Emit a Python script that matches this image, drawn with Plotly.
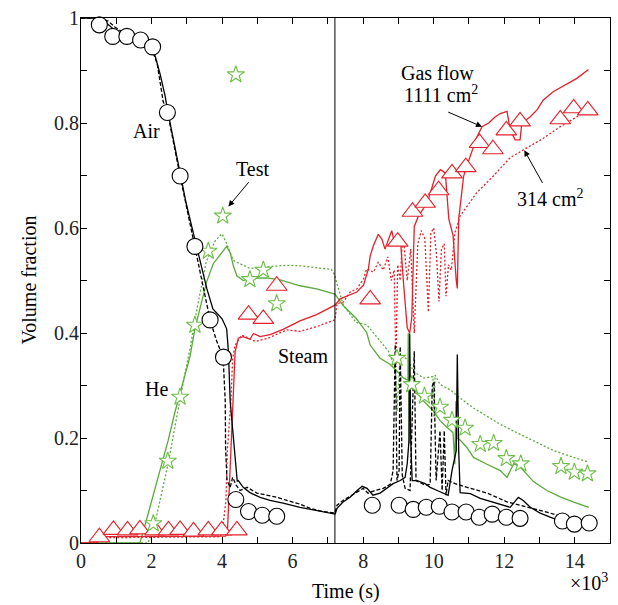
import plotly.graph_objects as go

# ---------------- data (time in 10^3 s, volume fraction) ----------------
# Measured points (test)
air_test_t = [0.52, 0.90, 1.30, 1.69, 2.03, 2.45, 2.81, 3.23, 3.66, 4.04, 4.39, 4.75, 5.14, 5.55,
              8.26, 9.02, 9.42, 9.79, 10.16, 10.52, 10.92, 11.29, 11.66, 12.06, 12.45, 13.65, 13.99, 14.41]
air_test_v = [0.987, 0.965, 0.965, 0.958, 0.945, 0.820, 0.699, 0.565, 0.425, 0.354, 0.083, 0.060, 0.053, 0.051,
              0.072, 0.072, 0.064, 0.068, 0.070, 0.059, 0.059, 0.049, 0.055, 0.049, 0.047, 0.042, 0.036, 0.038]

he_test_t = [0.54, 2.05, 2.46, 2.81, 3.23, 3.61, 4.02, 4.39, 4.79, 5.17, 5.55,
             8.96, 9.38, 9.74, 10.18, 10.52, 10.89, 11.32, 11.70, 12.06, 12.47, 13.61, 13.99, 14.36]
he_test_v = [-0.007, 0.037, 0.156, 0.278, 0.415, 0.556, 0.623, 0.892, 0.502, 0.520, 0.456,
             0.352, 0.302, 0.280, 0.259, 0.234, 0.219, 0.188, 0.190, 0.161, 0.151, 0.146, 0.135, 0.132]

steam_test_t = [0.52, 0.92, 1.32, 1.67, 2.10, 2.48, 2.81, 3.19, 3.61, 3.99, 4.42, 4.75, 5.17, 5.55,
                8.20, 8.98, 9.40, 9.76, 10.14, 10.52, 10.91, 11.30, 11.68, 12.06, 12.45, 13.59, 13.97, 14.37]
steam_test_v = [0.011, 0.025, 0.024, 0.026, 0.024, 0.024, 0.025, 0.022, 0.024, 0.024, 0.024, 0.435, 0.427, 0.490,
                0.464, 0.574, 0.631, 0.648, 0.672, 0.704, 0.716, 0.762, 0.750, 0.786, 0.803, 0.807, 0.828, 0.824]

# Air, gas flow 1111 cm2 (solid)
air_1111_t = [0, 0.40, 0.62, 0.82, 1.05, 1.39, 1.73, 1.96, 2.10, 2.24, 2.38, 2.47, 2.64, 2.81, 2.98, 3.23, 3.40,
              3.57, 3.74, 4.00, 4.13, 4.18, 4.23, 4.32, 4.37, 4.41, 4.43, 4.46, 4.60, 4.79, 5.08, 5.36, 5.73, 6.21,
              6.78, 7.20, 7.21, 7.26, 7.43, 7.63, 7.83, 7.97, 8.11, 8.28, 8.48, 8.68, 8.85, 9.05, 9.19, 9.25, 9.30,
              9.32, 9.35, 9.39, 9.53, 9.76, 9.90, 10.10, 10.27, 10.41, 10.52, 10.64, 10.67, 10.71, 10.75, 11.04,
              11.32, 11.66, 11.97, 12.17, 12.40, 12.54, 12.74, 13.02, 13.39, 13.79, 14.07, 14.41]
air_1111_v = [1.0, 1.0, 0.996, 0.985, 0.970, 0.962, 0.955, 0.945, 0.928, 0.894, 0.853, 0.819, 0.762, 0.699, 0.648,
              0.578, 0.531, 0.484, 0.446, 0.427, 0.408, 0.365, 0.270, 0.208, 0.163, 0.140, 0.118, 0.119, 0.106,
              0.096, 0.087, 0.081, 0.076, 0.068, 0.060, 0.055, 0.056, 0.066, 0.078, 0.087, 0.100, 0.108, 0.104,
              0.091, 0.095, 0.104, 0.113, 0.119, 0.125, 0.151, 0.195, 0.399, 0.195, 0.119, 0.119, 0.113, 0.106,
              0.100, 0.095, 0.091, 0.138, 0.176, 0.359, 0.176, 0.096, 0.094, 0.085, 0.078, 0.072, 0.068, 0.087,
              0.081, 0.068, 0.057, 0.047, 0.040, 0.038, 0.030]

# Air, gas flow 314 cm2 (dashed)
air_314_t = [0, 0.54, 0.77, 0.96, 1.25, 1.67, 2.01, 2.16, 2.33, 2.47, 2.81, 3.23, 3.46, 3.66, 3.83, 4.03, 4.09,
             4.10, 4.14, 4.23, 4.30, 4.40, 4.51, 4.71, 4.99, 5.28, 5.56, 5.84, 6.21, 6.50, 6.84, 7.20,
             7.26, 7.43, 7.63, 7.83, 8.00, 8.14, 8.34, 8.57, 8.77, 8.85, 8.91, 8.96, 9.02, 9.05, 9.11, 9.19,
             9.33, 9.45, 9.50, 9.62, 9.76, 9.90, 9.96, 10.01, 10.07, 10.18, 10.24, 10.30, 10.35, 10.41, 10.61,
             10.95, 11.52, 12.09, 12.45, 12.82, 13.30, 13.79, 14.41]
air_314_v = [1.0, 1.0, 0.994, 0.983, 0.970, 0.957, 0.941, 0.913, 0.841, 0.815, 0.699, 0.565, 0.493, 0.425, 0.388,
             0.353, 0.270, 0.181, 0.119, 0.106, 0.125, 0.110, 0.100, 0.106, 0.095, 0.091, 0.087, 0.081, 0.074,
             0.066, 0.060, 0.057, 0.072, 0.081, 0.089, 0.096, 0.104, 0.095, 0.100, 0.104, 0.112, 0.138, 0.378,
             0.119, 0.138, 0.374, 0.129, 0.104, 0.100, 0.365, 0.119, 0.115, 0.110, 0.112, 0.299, 0.308, 0.119,
             0.214, 0.100, 0.214, 0.091, 0.119, 0.113, 0.106, 0.095, 0.078, 0.072, 0.066, 0.057, 0.047, 0.038]

# He, 1111 cm2 (solid)
he_1111_t = [0, 1.67, 1.84, 2.01, 2.24, 2.47, 2.67, 2.87, 3.09, 3.23, 3.56, 3.75, 3.94, 4.13, 4.23, 4.32, 4.42,
             4.60, 4.79, 5.26, 5.65, 6.21, 6.68, 7.20, 7.44, 7.80, 8.10, 8.20, 8.48, 8.77, 8.96, 9.15, 9.27, 9.28,
             9.31, 9.33, 9.44, 9.72, 10.00, 10.18, 10.37, 10.55, 10.60, 10.63, 10.66, 10.75, 10.94, 11.13, 11.51,
             11.89, 12.08, 12.17, 12.27, 12.45, 12.83, 13.21, 13.59, 13.97, 14.40]
he_1111_v = [0.0, 0.0, 0.040, 0.081, 0.138, 0.195, 0.251, 0.299, 0.355, 0.408, 0.497, 0.532, 0.548, 0.565, 0.553,
             0.528, 0.509, 0.500, 0.504, 0.505, 0.501, 0.490, 0.484, 0.474, 0.452, 0.428, 0.401, 0.377, 0.352,
             0.340, 0.327, 0.314, 0.310, 0.400, 0.190, 0.300, 0.295, 0.270, 0.251, 0.233, 0.221, 0.210, 0.150,
             0.270, 0.200, 0.196, 0.182, 0.163, 0.150, 0.138, 0.125, 0.138, 0.151, 0.145, 0.117, 0.100, 0.088,
             0.078, 0.068]

# He, 314 cm2 (dashed)
he_314_t = [0, 1.90, 2.10, 2.48, 2.81, 3.09, 3.30, 3.55, 3.80, 4.00, 4.13, 4.32, 4.60, 4.79, 5.28, 5.84, 6.21,
            6.68, 7.10, 7.20, 7.25, 7.44, 7.80, 8.10, 8.48, 8.72, 8.91, 8.96, 9.05, 9.25, 9.44, 9.72, 9.98, 10.01,
            10.04, 10.18, 10.46, 10.75, 11.13, 11.51, 11.89, 12.36, 12.83, 13.40, 13.97, 14.40]
he_314_v = [0.0, 0.0, 0.038, 0.154, 0.275, 0.370, 0.450, 0.535, 0.575, 0.589, 0.570, 0.538, 0.529, 0.523, 0.526,
            0.529, 0.528, 0.525, 0.521, 0.510, 0.495, 0.453, 0.420, 0.416, 0.384, 0.365, 0.333, 0.251, 0.358,
            0.350, 0.326, 0.314, 0.317, 0.240, 0.320, 0.302, 0.292, 0.276, 0.257, 0.242, 0.226, 0.210, 0.195,
            0.176, 0.163, 0.154]

# Steam, 1111 cm2 (solid)
steam_1111_t = [0, 0.45, 0.55, 4.10, 4.15, 4.23, 4.32, 4.37, 4.46, 4.60, 4.79, 4.89, 5.08, 5.36, 5.73, 6.21, 6.68,
                7.20, 7.35, 7.63, 7.82, 8.01, 8.15, 8.20, 8.29, 8.43, 8.53, 8.62, 8.72, 8.81, 8.91, 9.05, 9.15,
                9.25, 9.32, 9.38, 9.45, 9.57, 9.82, 10.05, 10.19, 10.33, 10.43, 10.55, 10.64, 10.67, 10.71, 10.85,
                10.94, 11.13, 11.23, 11.37, 11.56, 11.75, 11.89, 12.08, 12.17, 12.31, 12.45, 12.50, 12.74, 12.93,
                13.11, 13.40, 13.78, 14.06, 14.39]
steam_1111_v = [0.0, 0.0, 0.012, 0.013, 0.019, 0.144, 0.302, 0.364, 0.390, 0.393, 0.388, 0.399, 0.393, 0.397,
                0.407, 0.423, 0.435, 0.453, 0.465, 0.472, 0.478, 0.491, 0.522, 0.547, 0.566, 0.588, 0.579, 0.560,
                0.579, 0.595, 0.566, 0.585, 0.491, 0.410, 0.400, 0.430, 0.603, 0.623, 0.648, 0.699, 0.711, 0.705,
                0.617, 0.586, 0.500, 0.485, 0.617, 0.699, 0.718, 0.756, 0.774, 0.793, 0.800, 0.812, 0.818, 0.822,
                0.787, 0.768, 0.768, 0.800, 0.812, 0.825, 0.844, 0.860, 0.875, 0.885, 0.902]

# Steam, 314 cm2 (dashed)
steam_314_t = [0, 0.45, 0.50, 3.95, 4.02, 4.11, 4.15, 4.25, 4.30, 4.37, 4.56, 4.94, 5.30, 5.58, 5.84, 6.21, 6.68,
               7.20, 7.26, 7.44, 7.63, 7.82, 8.01, 8.10, 8.29, 8.43, 8.57, 8.70, 8.80, 8.88, 8.93, 8.98, 9.05,
               9.10, 9.15, 9.25, 9.35, 9.45, 9.55, 9.65, 9.75, 9.85, 9.92, 10.00, 10.08, 10.15, 10.22, 10.30,
               10.35, 10.42, 10.50, 10.60, 10.75, 11.22, 11.69, 12.17, 12.64, 13.11, 13.59, 14.06, 14.39]
steam_314_v = [0.0, 0.0, 0.010, 0.012, 0.030, 0.081, 0.176, 0.270, 0.352, 0.377, 0.396, 0.384, 0.390, 0.399,
               0.406, 0.403, 0.412, 0.425, 0.456, 0.459, 0.478, 0.484, 0.503, 0.522, 0.516, 0.535, 0.520, 0.545,
               0.500, 0.520, 0.335, 0.530, 0.500, 0.560, 0.575, 0.500, 0.560, 0.400, 0.570, 0.595, 0.580, 0.440,
               0.590, 0.600, 0.550, 0.460, 0.560, 0.570, 0.470, 0.530, 0.520, 0.590, 0.623, 0.667, 0.699, 0.734,
               0.752, 0.771, 0.793, 0.812, 0.825]

x_tick_vals = [0, 2, 4, 6, 8, 10, 12, 14]
x_tick_text = ["0", "2", "4", "6", "8", "10", "12", "14"]
y_tick_vals = [0, 0.2, 0.4, 0.6, 0.8, 1.0]
y_tick_text = ["0", "0.2", "0.4", "0.6", "0.8", "1"]

# ---------------- styles ----------------
BLACK = "#000000"
GREEN = "#5aaa3a"
RED = "#e4202a"
FONT = "Liberation Serif"
LW = 1.3
FS = 20

fig = go.Figure()

def line(x, y, color, dash):
    fig.add_trace(go.Scatter(x=x, y=y, mode="lines",
                             line=dict(color=color, width=LW, dash=dash),
                             showlegend=False, hoverinfo="skip"))

line(he_314_t, he_314_v, GREEN, "2px,2px")
line(he_1111_t, he_1111_v, GREEN, "solid")
line(steam_314_t, steam_314_v, RED, "2px,2px")
line(steam_1111_t, steam_1111_v, RED, "solid")
line(air_314_t, air_314_v, BLACK, "4px,2px")
line(air_1111_t, air_1111_v, BLACK, "solid")

def markers(x, y, symbol, size, color):
    fig.add_trace(go.Scatter(x=x, y=y, mode="markers", cliponaxis=False,
                             marker=dict(symbol=symbol, size=size, color="white",
                                         line=dict(color=color, width=1.1)),
                             showlegend=False, hoverinfo="skip"))

markers(steam_test_t, steam_test_v, "triangle-up", 18, RED)
markers(he_test_t, he_test_v, "star", 13, "#6cbf46")
markers(air_test_t, air_test_v, "circle", 16, BLACK)

# vertical separator
fig.add_shape(type="line", x0=7.2, x1=7.2, y0=0, y1=1, xref="x", yref="y",
              line=dict(color=BLACK, width=1), layer="above")

txt = dict(family=FONT, size=FS, color=BLACK)
ann = []
def text(x, y, s, **kw):
    ann.append(dict(x=x, y=y, xref="x", yref="y", text=s, showarrow=False, font=txt, **kw))

def arrow(x0, y0, x1, y1):
    ann.append(dict(x=x1, y=y1, ax=x0, ay=y0, xref="x", yref="y", axref="x", ayref="y",
                    text="", showarrow=True, arrowhead=2, arrowsize=1.2, arrowwidth=1,
                    arrowcolor=BLACK))

text(1.87, 0.784, "Air")
text(4.85, 0.713, "Test")
text(2.13, 0.293, "He")
text(6.30, 0.357, "Steam")
text(10.10, 0.896, "Gas flow")
text(10.22, 0.855, "1111 cm<sup>2</sup>")
text(13.30, 0.658, "314 cm<sup>2</sup>")
arrow(4.79, 0.690, 4.18, 0.641)
arrow(10.37, 0.822, 11.37, 0.793)
arrow(13.11, 0.683, 12.57, 0.748)

ann.append(dict(x=0.5, y=-0.092, xref="paper", yref="paper", text="Time (s)", showarrow=False,
                font=txt, xanchor="center", yanchor="middle"))
ann.append(dict(x=1.0, y=-0.075, xref="paper", yref="paper", text="×10<sup>3</sup>", showarrow=False,
                font=txt, xanchor="right", yanchor="middle"))
ann.append(dict(x=-0.1, y=0.5, xref="paper", yref="paper", text="Volume fraction", showarrow=False,
                font=txt, textangle=-90, xanchor="center", yanchor="middle"))

axis_common = dict(showgrid=False, zeroline=False, showline=True, linecolor=BLACK, linewidth=1.2,
                   mirror="ticks", ticks="inside", ticklen=6, tickwidth=1, tickcolor=BLACK,
                   tickfont=dict(family=FONT, size=FS, color="#222222"))

fig.update_layout(
    width=618, height=605,
    margin=dict(l=81, r=7, t=14, b=62),
    plot_bgcolor="white", paper_bgcolor="white",
    xaxis=dict(range=[0, 15], tickvals=x_tick_vals, ticktext=x_tick_text,
               minor=dict(dtick=1, tick0=0, ticks="inside", ticklen=6, tickcolor=BLACK),
               **axis_common),
    yaxis=dict(range=[0, 1], tickvals=y_tick_vals, ticktext=y_tick_text, ticklabelstandoff=-3,
               minor=dict(dtick=0.1, tick0=0, ticks="inside", ticklen=6, tickcolor=BLACK),
               **axis_common),
    annotations=ann,
    showlegend=False,
)

fig.write_html("out.html")
